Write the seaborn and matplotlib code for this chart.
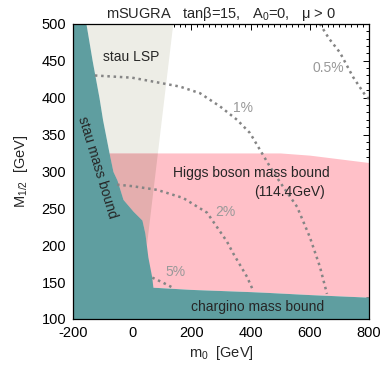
import numpy as np
import pandas as pd
import matplotlib
matplotlib.use("Agg")
import matplotlib.pyplot as plt
import seaborn as sns

sns.set_theme(style="ticks")
plt.rcParams['font.family'] = ['Liberation Sans', 'DejaVu Sans']
plt.rcParams['mathtext.fontset'] = 'custom'
plt.rcParams['mathtext.rm'] = 'Liberation Sans'
plt.rcParams['mathtext.it'] = 'Liberation Sans'
plt.rcParams['mathtext.default'] = 'regular'
plt.rcParams['axes.unicode_minus'] = False

# ---- data ----
# stau mass bound (teal) right edge: M1/2 vs m0
stau_M = [500, 450, 400, 370, 325, 300, 288, 262, 246, 234, 216, 200, 184, 157, 143, 100]
stau_m0 = [-156, -135, -112, -100, -78, -65, -51, -31, 3, 33, 43, 48, 53, 66, 70, 70]
# chargino mass bound upper edge
char_m0 = [-200, 70, 200, 400, 455, 600, 800]
char_M = [143, 143, 140, 137, 136, 133, 129.5]
# Higgs boson mass bound upper edge
higgs_m0 = [-200, 500, 600, 700, 800]
higgs_M = [325, 325, 322, 317, 312]
# stau LSP wedge right edge
lsp_M = [500, 200]
lsp_m0 = [137, 48]
# fine-tuning contours
c05_m0 = [634, 665, 702, 730, 746, 786, 800]
c05_M = [500, 480, 461, 440, 428, 404, 398]
c1_m0 = [-126, 0, 94, 161, 229, 297, 354, 398, 432, 466, 500, 557, 600, 634, 658]
c1_M = [430, 427, 420, 415, 406, 388, 370, 352, 329, 306, 285, 252, 211, 171, 134]
c2_m0 = [-51, 0, 84, 172, 253, 320, 341, 388, 408]
c2_M = [282, 280, 275, 264, 244, 205, 189, 157, 139]
c5_m0 = [68, 100, 134]
c5_M = [156, 150, 143]
contour_labels = ["0.5%", "1%", "2%", "5%"]
label_m0 = [661, 374, 314, 145]
label_M = [440, 386, 245, 164]

teal = "#5F9EA0"
pink = "#FFC0C8"
gray = "#EDEDE6"
overlap = "#E4AEAE"

fig = plt.figure(figsize=(3.82, 3.67), dpi=100)
ax = fig.add_axes([0.191, 0.131, 0.775, 0.804])

Mgrid = np.linspace(100, 500, 801)
mgrid = np.linspace(-200, 800, 1001)

stau_x = np.interp(Mgrid, stau_M[::-1], stau_m0[::-1])
lsp_x = np.interp(Mgrid, lsp_M[::-1], lsp_m0[::-1])
higgs_top = np.interp(mgrid, higgs_m0, higgs_M)
char_top = np.interp(mgrid, char_m0, char_M)

# Higgs (pink) region
ax.fill_between(mgrid, char_top, higgs_top, color=pink, lw=0, zorder=1)
# stau LSP wedge: above higgs top gray, below overlap colour
hig_at_left = 325
above = Mgrid >= hig_at_left
below = Mgrid <= hig_at_left
ax.fill_betweenx(Mgrid, stau_x, lsp_x, where=above & (lsp_x > stau_x), color=gray, lw=0, zorder=2)
ax.fill_betweenx(Mgrid, stau_x, lsp_x, where=below & (lsp_x > stau_x), color=overlap, lw=0, zorder=2)
# teal regions
ax.fill_betweenx(Mgrid, -200, stau_x, color=teal, lw=0, zorder=3)
ax.fill_between(mgrid, 100, char_top, color=teal, lw=0, zorder=3)

# contours
for xs, ys in [(c05_m0, c05_M), (c1_m0, c1_M), (c2_m0, c2_M), (c5_m0, c5_M)]:
    df = pd.DataFrame({"m0": xs, "M": ys})
    sns.lineplot(data=df, x="m0", y="M", sort=False, ax=ax, color="#858585",
                 lw=1.8, linestyle=(0, (1, 1.5)), zorder=4)
for t, x, y in zip(contour_labels, label_m0, label_M):
    ax.text(x, y, t, color="#999999", fontsize=10, ha="center", va="center", zorder=5)

ax.text(-4, 455, "stau LSP", fontsize=10, ha="center", va="center", zorder=5)
ax.text(-119, 306, "stau mass bound", fontsize=10, ha="center", va="center",
        rotation=-73, rotation_mode="anchor", zorder=5)
ax.text(401, 298, "Higgs boson mass bound", fontsize=10, ha="center", va="center", zorder=5)
ax.text(530, 272, "(114.4GeV)", fontsize=10, ha="center", va="center", zorder=5)
ax.text(425, 116, "chargino mass bound", fontsize=10, ha="center", va="center", zorder=5)

ax.set_xlim(-200, 800)
ax.set_ylim(100, 500)
ax.set_xticks([-200, 0, 200, 400, 600, 800])
ax.set_yticks([100, 150, 200, 250, 300, 350, 400, 450, 500])
ax.xaxis.set_minor_locator(matplotlib.ticker.MultipleLocator(20))
ax.yaxis.set_minor_locator(matplotlib.ticker.MultipleLocator(10))
ax.tick_params(which="both", direction="in", top=True, right=True, labelsize=10.5,
               colors="black", width=0.7)
ax.tick_params(which="major", length=4, pad=5)
ax.tick_params(which="minor", length=2)
for s in ax.spines.values():
    s.set_color("black")
    s.set_linewidth(0.9)
    s.set_zorder(10)
ax.set_xlabel("m$_0$  [GeV]", fontsize=10.5, labelpad=3)
ax.set_ylabel("M$_{1/2}$  [GeV]", fontsize=10.5, labelpad=8)
ax.set_title("mSUGRA   tan\u03b2=15,   A$_0$=0,   \u03bc > 0", fontsize=10.5, pad=4)

fig.savefig("out.png", dpi=100)
